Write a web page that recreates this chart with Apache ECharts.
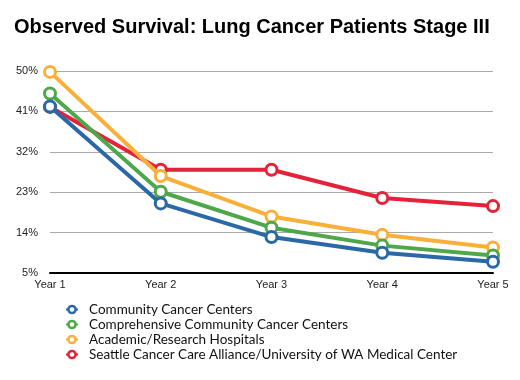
<!DOCTYPE html>
<html><head><meta charset="utf-8">
<script src="https://cdn.jsdelivr.net/npm/echarts@6/dist/echarts.min.js"></script>
<style>html,body{margin:0;padding:0;background:#fff}#c{width:520px;height:380px}</style>
</head><body><div id="c"></div>
<script>
const categories = ['Year 1','Year 2','Year 3','Year 4','Year 5'];
const seriesNames = ['Community Cancer Centers','Comprehensive Community Cancer Centers','Academic/Research Hospitals','Seattle Cancer Care Alliance/University of WA Medical Center'];
const community = [42.1, 20.5, 13.0, 9.5, 7.5];
const comprehensive = [45.0, 23.1, 15.1, 11.1, 8.9];
const academic = [49.8, 26.6, 17.6, 13.5, 10.7];
const seattle = [42.0, 28.0, 28.0, 21.7, 19.9];
const colors = ['#2b68a6', '#4ea84b', '#f9b03b', '#e3233a'];
const yTicks = [5, 14, 23, 32, 41, 50];

const values = [community, comprehensive, academic, seattle];
const series = [];
for (let i = 3; i >= 0; i--) {
  series.push({
    name: seriesNames[i], type: 'line', data: values[i],
    symbol: 'circle', symbolSize: 11, showSymbol: true,
    lineStyle: {color: colors[i], width: 4},
    itemStyle: {color: '#fff', borderColor: colors[i], borderWidth: 3},
    z: 10 + (3 - i)
  });
}
const chart = echarts.init(document.getElementById('c'), null, {renderer: 'canvas'});
chart.setOption({
  animation: false,
  title: {text: 'Observed Survival: Lung Cancer Patients Stage III', left: 9, top: 12,
    textStyle: {fontFamily: 'Liberation Sans', fontWeight: 'bold', fontSize: 20, color: '#000'}},
  grid: {left: 50, right: 27, top: 71, bottom: 107},
  legend: {
    data: seriesNames, orient: 'vertical', left: 60, top: 297, itemGap: 0,
    itemWidth: 12, itemHeight: 9,
    itemStyle: {borderWidth: 2.5},
    textStyle: {fontFamily: 'Lato', fontSize: 13.5, lineHeight: 15, color: '#111', padding: [0, 0, 0, 6]}
  },
  xAxis: {type: 'category', data: categories, boundaryGap: false,
    axisLine: {lineStyle: {color: '#000', width: 2}}, axisTick: {show: false},
    axisLabel: {fontFamily: 'Liberation Sans', fontSize: 11, color: '#222', margin: 6}},
  yAxis: {type: 'value', min: 5, max: 50, interval: 9,
    axisLine: {show: false}, axisTick: {show: false},
    splitLine: {lineStyle: {color: '#aaa', width: 1}},
    axisLabel: {fontFamily: 'Liberation Sans', fontSize: 11, color: '#222', margin: 12, formatter: v => v + '%'}},
  series: series
});
</script></body></html>
